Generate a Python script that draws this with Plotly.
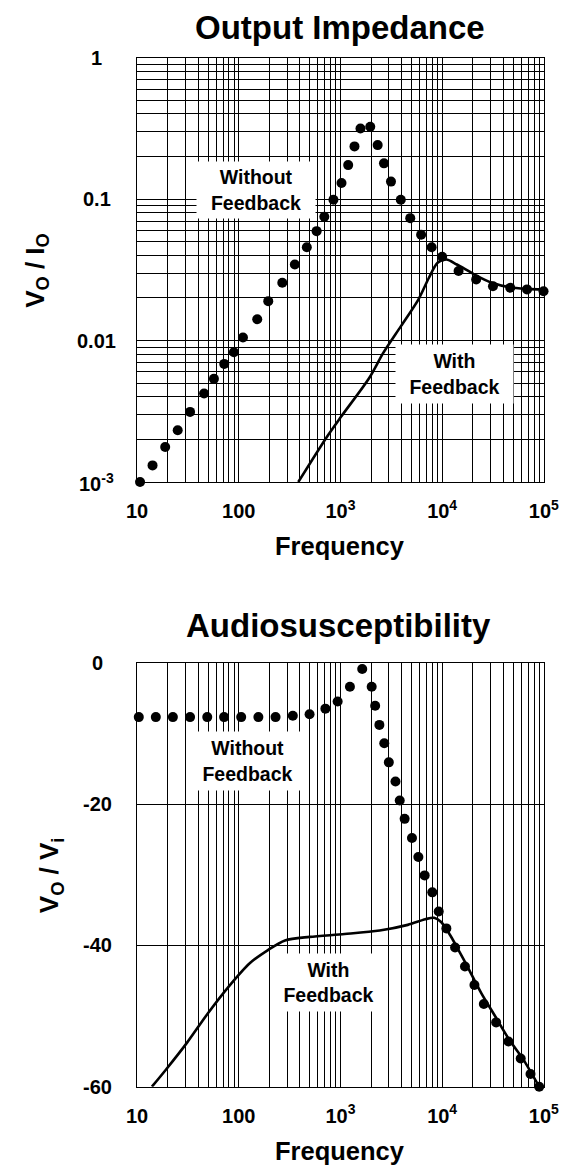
import math
import plotly.graph_objects as go

# ---------------- data ----------------
# Output impedance, without feedback (dots)
zo_nofb_f = [10.7, 14.2, 18.9, 25.1, 33.2, 45.6, 57, 72, 89.6, 110, 152, 195, 268, 356,
             467, 583, 694, 853, 1024, 1191, 1374, 1573, 1964, 2322, 2679, 3139, 3920,
             4855, 6210, 7880, 10000, 14500, 21600, 31600, 46700, 68300, 99300]
zo_nofb_v = [0.001, 0.00131, 0.00177, 0.00232, 0.00313, 0.00422, 0.00536, 0.00684, 0.00826,
             0.0105, 0.01415, 0.019, 0.0256, 0.0345, 0.0457, 0.0594, 0.075, 0.0989, 0.13,
             0.174, 0.236, 0.316, 0.325, 0.241, 0.179, 0.133, 0.099, 0.0734, 0.056, 0.0457,
             0.0391, 0.031, 0.027, 0.0242, 0.0236, 0.023, 0.0223]
# Output impedance, with feedback (line)
zo_fb_f = [385, 740, 1016, 1918, 2636, 3920, 5834, 7396, 9016, 10990, 13960, 20760,
           30900, 45950, 68300, 99300]
zo_fb_v = [0.001, 0.0021, 0.0029, 0.00544, 0.00818, 0.0126, 0.0195, 0.0277, 0.0355,
           0.0374, 0.0345, 0.0293, 0.0256, 0.0238, 0.0232, 0.023]

# Audiosusceptibility, without feedback (dots, dB)
au_nofb_f = [10.4, 15.3, 22.5, 33.2, 49, 71.7, 105.7, 156, 230, 340, 497, 711, 938, 1239,
             1637, 2028, 2194, 2414, 2697, 2990, 3477, 3828, 4276, 5049, 5834, 6730, 8000,
             9250, 11000, 13400, 16760, 20760, 25700, 33950, 44850, 59200, 73900, 90000]
au_nofb_v = [-7.7, -7.7, -7.7, -7.7, -7.7, -7.7, -7.7, -7.7, -7.7, -7.5, -7.3, -6.5, -5.5,
             -3.4, -0.9, -3.4, -6.1, -8.8, -11.4, -14.1, -16.8, -19.5, -22.1, -24.8, -27.5,
             -30.1, -32.5, -35.2, -37.6, -40.3, -43.0, -45.6, -48.3, -50.9, -53.6, -56.0,
             -58.2, -60.0]
# Audiosusceptibility, with feedback (line, dB)
au_fb_f = [14, 19.2, 30.9, 49.8, 80, 129, 192, 285, 497, 1100, 2432, 4590, 6830, 8330,
           9770, 11920, 14530, 17710, 24320, 33420, 45920, 63100, 90000]
au_fb_v = [-60, -57.6, -53.8, -49.6, -45.8, -42.5, -40.7, -39.3, -38.8, -38.4, -37.9,
           -37.1, -36.3, -36.1, -36.7, -38.5, -40.7, -43.0, -46.8, -50.1, -53.4, -56.2, -60]

x_tick_vals = [10, 100, 1000, 10000, 100000]
x_tick_text = ["10", "100", "10<sup>3</sup>", "10<sup>4</sup>", "10<sup>5</sup>"]
y1_tick_vals = [1, 0.1, 0.01, 0.001]
y1_tick_text = ["1", "0.1", "0.01", "10<sup>-3</sup>"]
y2_tick_vals = [0, -20, -40, -60]
y2_tick_text = ["0", "-20", "-40", "-60"]

# ---------------- layout helpers ----------------
W, H = 577, 1166
FONT = "Arial, Liberation Sans, sans-serif"


def px_x(p):
    return p / W


def px_y(p):
    return 1 - p / H


minor_log = [m * 10 ** e for e in range(1, 5) for m in range(2, 10)]
minor_log_y = [m * 10 ** e for e in range(-3, 0) for m in range(2, 10)]

x_dom = [px_x(132), px_x(558)]
y1_dom = [px_y(482), px_y(57.7)]
y2_dom = [px_y(1086.7), px_y(662.7)]

fig = go.Figure()

mk = dict(color="black", size=10)
ln = dict(color="black", width=2.6, shape="spline", smoothing=0.8)
fig.add_trace(go.Scatter(x=zo_nofb_f, y=zo_nofb_v, mode="markers", marker=mk,
                         xaxis="x", yaxis="y", cliponaxis=False, showlegend=False))
fig.add_trace(go.Scatter(x=zo_fb_f, y=zo_fb_v, mode="lines", line=ln,
                         xaxis="x", yaxis="y", showlegend=False))
fig.add_trace(go.Scatter(x=au_nofb_f, y=au_nofb_v, mode="markers", marker=mk,
                         xaxis="x2", yaxis="y2", cliponaxis=False, showlegend=False))
fig.add_trace(go.Scatter(x=au_fb_f, y=au_fb_v, mode="lines", line=ln,
                         xaxis="x2", yaxis="y2", showlegend=False))

tickfont = dict(family=FONT, size=20, color="black", weight="bold")

xcommon = dict(type="log", range=[1, 5], tickvals=x_tick_vals, ticktext=x_tick_text,
               ticks="", showgrid=True, gridcolor="black", gridwidth=1,
               minor=dict(tickvals=minor_log, showgrid=True, gridcolor="black", gridwidth=1, ticks=""),
               showline=True, linecolor="black", linewidth=1, mirror=True,
               tickfont=tickfont, ticklabelstandoff=11, zeroline=False)

fig.update_layout(
    width=W, height=H, margin=dict(l=0, r=0, t=0, b=0),
    paper_bgcolor="white", plot_bgcolor="white",
    xaxis=dict(domain=x_dom, anchor="y", **xcommon),
    yaxis=dict(domain=y1_dom, anchor="x", type="log", range=[-3, 0], tickvals=y1_tick_vals,
               showticklabels=False, ticks="", showgrid=True, gridcolor="black", gridwidth=1,
               minor=dict(tickvals=minor_log_y, showgrid=True, gridcolor="black", gridwidth=1, ticks=""),
               showline=True, linecolor="black", linewidth=1, mirror=True, zeroline=False),
    xaxis2=dict(domain=x_dom, anchor="y2", **xcommon),
    yaxis2=dict(domain=y2_dom, anchor="x2", range=[-60, 0], tickvals=y2_tick_vals,
                showticklabels=False, ticks="", showgrid=True, gridcolor="black", gridwidth=1,
                showline=True, linecolor="black", linewidth=1, mirror=True, zeroline=False),
)

ann = []


def bold(s):
    return "<b>" + s + "</b>"


def text_ann(text, x, y, size, xref="paper", yref="paper", **kw):
    d = dict(text=bold(text), x=x, y=y, xref=xref, yref=yref, showarrow=False,
             xanchor="center", yanchor="middle",
             font=dict(family=FONT, size=size, color="black"))
    d.update(kw)
    return d


# titles
ann.append(text_ann("Output Impedance", px_x(345), px_y(27), 33))
ann.append(text_ann("Audiosusceptibility", px_x(343), px_y(625), 33))
# x axis titles
ann.append(text_ann("Frequency", px_x(345), px_y(546), 25.5))
ann.append(text_ann("Frequency", px_x(345), px_y(1151), 25.5))
# y axis titles
ann.append(text_ann("V<sub>O</sub> / I<sub>O</sub>", px_x(26), px_y(270), 26, textangle=-90))
ann.append(text_ann("V<sub>O</sub> / V<sub>i</sub>", px_x(41), px_y(875), 26, textangle=-90))
# y tick labels (centred)
for v, t in zip(y1_tick_vals, y1_tick_text):
    ann.append(text_ann(t, px_x(90), math.log10(v), 20, yref="y"))
for v, t in zip(y2_tick_vals, y2_tick_text):
    ann.append(text_ann(t, px_x(91), v, 20, yref="y2"))
# label boxes
box = dict(bgcolor="white", borderpad=3)
ann.append(text_ann("Without<br>Feedback", 2.174, -0.936, 19.5, xref="x", yref="y",
                    width=112, height=50, **box))
ann.append(text_ann("With<br>Feedback", 4.122, -2.237, 19.5, xref="x", yref="y",
                    width=111, height=52, **box))
ann.append(text_ann("Without<br>Feedback", 2.085, -13.9, 19.5, xref="x2", yref="y2",
                    width=103, height=52, **box))
ann.append(text_ann("With<br>Feedback", 2.887, -45.3, 19.5, xref="x2", yref="y2",
                    width=97, height=51, **box))

fig.update_layout(annotations=ann)
fig.write_html("out.html")
